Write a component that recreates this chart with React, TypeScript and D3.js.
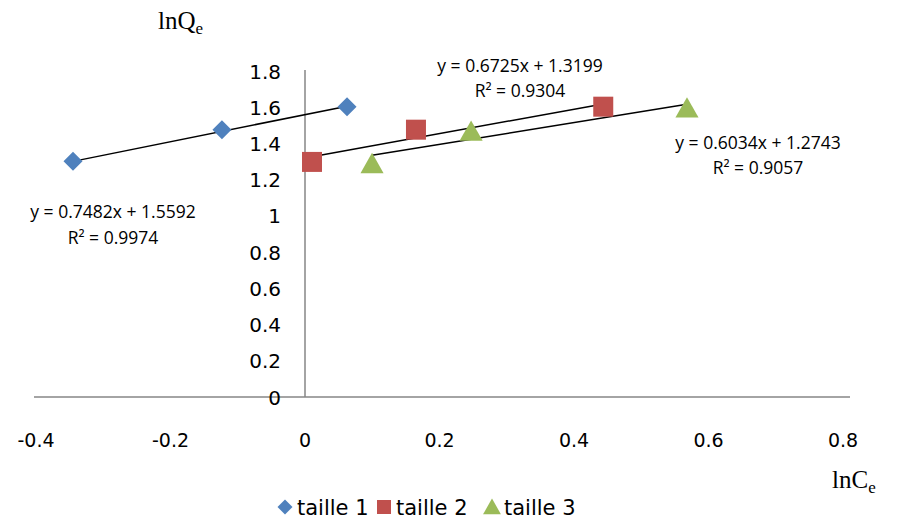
import React from "react";
import * as d3 from "d3";

const series1X = [-0.345, -0.1235, 0.0625];
const series1Y = [1.302, 1.476, 1.603];
const series2X = [0.0104, 0.165, 0.4435];
const series2Y = [1.298, 1.476, 1.603];
const series3X = [0.0997, 0.247, 0.568];
const series3Y = [1.293, 1.472, 1.6];
const seriesNames = ["taille 1", "taille 2", "taille 3"];
const seriesColors = ["#4F81BD", "#C0504D", "#9BBB59"];
const slopes = [0.7482, 0.6725, 0.6034];
const intercepts = [1.5592, 1.3199, 1.2743];
const r2 = ["0.9974", "0.9304", "0.9057"];
const xTicks = [-0.4, -0.2, 0, 0.2, 0.4, 0.6, 0.8];
const yTicks = [0, 0.2, 0.4, 0.6, 0.8, 1, 1.2, 1.4, 1.6, 1.8];

const W = 916;
const H = 519;

function marker(i: number, s: number) {
  if (i === 0) return `M0,${-s}L${s},0L0,${s}L${-s},0Z`;
  if (i === 1) return `M${-s},${-s}H${s}V${s}H${-s}Z`;
  return `M0,${-s}L${s * 1.05},${s * 0.85}L${-s * 1.05},${s * 0.85}Z`;
}

export default function App() {
  const x = d3.scaleLinear().domain([-0.4, 0.8]).range([36, 843]);
  const y = d3.scaleLinear().domain([0, 1.8]).range([397, 71]);
  const xs = [series1X, series2X, series3X];
  const ys = [series1Y, series2Y, series3Y];
  const line = d3
    .line<[number, number]>()
    .x((d) => x(d[0]))
    .y((d) => y(d[1]));

  const msize = [9.5, 10, 11];
  const eqPos = [
    { cx: 113, y1: 218, y2: 244 },
    { cx: 520, y1: 72, y2: 97 },
    { cx: 758, y1: 149, y2: 174 },
  ];
  const fmt = (v: number) => String(+v.toFixed(1));

  return (
    <svg width={W} height={H} style={{ position: "absolute", left: 0, top: 0, background: "#fff" }}>
      <line x1={x(-0.4) - 2} x2={x(0.8) + 7} y1={y(0)} y2={y(0)} stroke="#868686" strokeWidth={1.5} />
      <line x1={x(0)} x2={x(0)} y1={y(1.8) - 1} y2={y(0)} stroke="#868686" strokeWidth={1.5} />
      {yTicks.map((t) => (
        <text key={"y" + t} x={281} y={y(t) + 7.5} textAnchor="end" fontFamily="DejaVu Sans" fontSize={20} fill="#000">
          {fmt(t)}
        </text>
      ))}
      {xTicks.map((t) => (
        <text key={"x" + t} x={x(t)} y={447} textAnchor="middle" fontFamily="DejaVu Sans" fontSize={19} fill="#000">
          {fmt(t)}
        </text>
      ))}
      {xs.map((sx, i) => {
        const x0 = d3.min(sx)!;
        const x1 = d3.max(sx)!;
        const pts: [number, number][] = [
          [x0, slopes[i] * x0 + intercepts[i]],
          [x1, slopes[i] * x1 + intercepts[i]],
        ];
        return <path key={"t" + i} d={line(pts)!} stroke="#000" strokeWidth={1.5} fill="none" />;
      })}
      {xs.map((sx, i) =>
        sx.map((v, j) => (
          <path
            key={"m" + i + j}
            d={marker(i, msize[i])}
            transform={`translate(${x(v)},${y(ys[i][j]) + (i === 2 ? 1 : 0)})`}
            fill={seriesColors[i]}
          />
        ))
      )}
      {eqPos.map((p, i) => (
        <g key={"e" + i} fontFamily="Open Sans" fontSize={17.5} fill="#000" textAnchor="middle">
          <text x={p.cx} y={p.y1}>{`y = ${slopes[i]}x + ${intercepts[i]}`}</text>
          <text x={p.cx} y={p.y2}>{`R² = ${r2[i]}`}</text>
        </g>
      ))}
      <text x={158} y={29} fontFamily="Liberation Serif" fontSize={25} fill="#000">
        lnQ<tspan fontSize={17} dy={5}>e</tspan>
      </text>
      <text x={832} y={488} fontFamily="Liberation Serif" fontSize={25} fill="#000">
        lnC<tspan fontSize={17} dy={5}>e</tspan>
      </text>
      {seriesNames.map((n, i) => {
        const lx = [285, 384, 492][i];
        return (
          <g key={"l" + i}>
            <path
              d={marker(i, [7.5, 7, 8.5][i])}
              transform={`translate(${lx},${507 + (i === 2 ? 0 : 0)})`}
              fill={seriesColors[i]}
            />
            <text x={lx + 12} y={515} fontFamily="DejaVu Sans" fontSize={21} fill="#000">
              {n}
            </text>
          </g>
        );
      })}
    </svg>
  );
}
